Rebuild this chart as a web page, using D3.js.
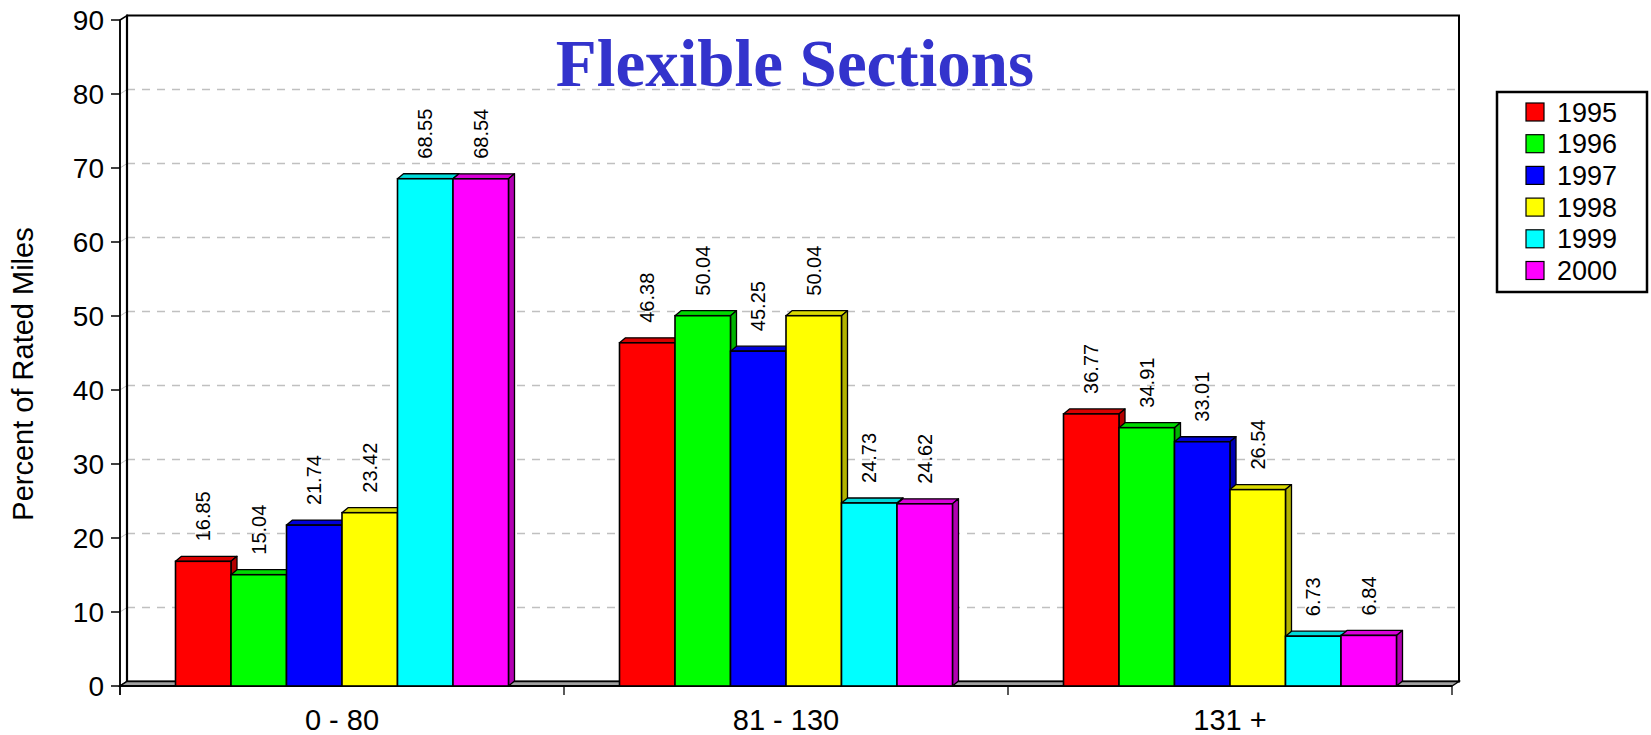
<!DOCTYPE html>
<html>
<head>
<meta charset="utf-8">
<script src="https://cdn.jsdelivr.net/npm/d3@7"></script>
<style>
  html, body { margin: 0; padding: 0; background: #fff; }
  svg { display: block; }
</style>
</head>
<body>
<svg id="chart" width="1651" height="735"></svg>
<script>
// Speed-range categories and yearly series
const categories = ["0 - 80", "81 - 130", "131 +"];
const years = ["1995", "1996", "1997", "1998", "1999", "2000"];
const values1995 = [16.85, 46.38, 36.77];
const values1996 = [15.04, 50.04, 34.91];
const values1997 = [21.74, 45.25, 33.01];
const values1998 = [23.42, 50.04, 26.54];
const values1999 = [68.55, 24.73, 6.73];
const values2000 = [68.54, 24.62, 6.84];
const yTicks = [0, 10, 20, 30, 40, 50, 60, 70, 80, 90];
const colors = ["#FF0000", "#00FF00", "#0000FF", "#FFFF00", "#00FFFF", "#FF00FF"];

const seriesValues = [values1995, values1996, values1997, values1998, values1999, values2000];

(function () {
const svg = d3.select("#chart");

// Layout of the pseudo-3D plot box
const plotLeft = 120, plotRight = 1452, plotBottom = 686, plotTop = 20;
const wallDx = 7, wallDy = -4.5;   // depth of walls
const barDx = 6, barDy = -5;       // depth of bars

const y = d3.scaleLinear().domain([0, 90]).range([plotBottom, plotTop]);
const x = d3.scaleBand().domain(categories).range([plotLeft, plotRight]).padding(0);
const xInner = d3.scaleBand().domain(years)
  .range([x.bandwidth() * 0.125, x.bandwidth() * 0.875]).padding(0);

const poly = pts => "M" + pts.map(p => p.join(",")).join("L") + "Z";

// Back wall
svg.append("rect")
  .attr("x", plotLeft + wallDx).attr("y", plotTop + wallDy)
  .attr("width", plotRight - plotLeft).attr("height", plotBottom - plotTop)
  .attr("fill", "#fff").attr("stroke", "#000").attr("stroke-width", 2);

// Dashed gridlines on back wall and left wall
const grid = svg.append("g");
yTicks.filter(t => t > 0 && t < 90).forEach(t => {
  grid.append("line")
    .attr("x1", plotLeft + wallDx).attr("x2", plotRight + wallDx)
    .attr("y1", y(t) + wallDy).attr("y2", y(t) + wallDy)
    .attr("stroke", "#c0c0c0").attr("stroke-width", 1.3)
    .attr("stroke-dasharray", "8,7");
  grid.append("line")
    .attr("x1", plotLeft).attr("x2", plotLeft + wallDx)
    .attr("y1", y(t)).attr("y2", y(t) + wallDy)
    .attr("stroke", "#c0c0c0").attr("stroke-width", 1);
});

// Left wall (thin slab)
svg.append("path")
  .attr("d", poly([[plotLeft, plotBottom], [plotLeft, plotTop], [plotLeft + wallDx, plotTop + wallDy], [plotLeft + wallDx, plotBottom + wallDy]]))
  .attr("fill", "none").attr("stroke", "#000").attr("stroke-width", 1.5);
svg.append("line")
  .attr("x1", plotLeft + wallDx).attr("x2", plotLeft + wallDx)
  .attr("y1", plotTop + wallDy).attr("y2", plotBottom + wallDy)
  .attr("stroke", "#000").attr("stroke-width", 2.2);

// Floor
svg.append("path")
  .attr("d", poly([[plotLeft, plotBottom], [plotRight, plotBottom], [plotRight + wallDx, plotBottom + wallDy], [plotLeft + wallDx, plotBottom + wallDy]]))
  .attr("fill", "#a0a0a0").attr("stroke", "#000").attr("stroke-width", 1.3);
svg.append("line")
  .attr("x1", plotLeft).attr("x2", plotRight)
  .attr("y1", plotBottom).attr("y2", plotBottom)
  .attr("stroke", "#000").attr("stroke-width", 2.2);

// Bars, drawn left to right so each front face covers the previous side
const barsG = svg.append("g");
const labelsG = svg.append("g");
categories.forEach((cat, ci) => {
  years.forEach((yr, si) => {
    const v = seriesValues[si][ci];
    const x0 = x(cat) + xInner(yr);
    const x1 = x0 + xInner.bandwidth();
    const yt = y(v);
    const base = d3.color(colors[si]);
    const g = barsG.append("g");
    // top face
    g.append("path")
      .attr("d", poly([[x0, yt], [x1, yt], [x1 + barDx, yt + barDy], [x0 + barDx, yt + barDy]]))
      .attr("fill", base.darker(0.45)).attr("stroke", "#000").attr("stroke-width", 1.3)
      .attr("stroke-linejoin", "round");
    // side face
    g.append("path")
      .attr("d", poly([[x1, yt], [x1 + barDx, yt + barDy], [x1 + barDx, plotBottom + barDy], [x1, plotBottom]]))
      .attr("fill", base.darker(1)).attr("stroke", "#000").attr("stroke-width", 1.3)
      .attr("stroke-linejoin", "round");
    // front face
    g.append("rect")
      .attr("x", x0).attr("y", yt)
      .attr("width", x1 - x0).attr("height", plotBottom - yt)
      .attr("fill", colors[si]).attr("stroke", "#000").attr("stroke-width", 1.6);
    // value label
    const cx = (x0 + x1) / 2;
    const ly = yt - 20;
    labelsG.append("text")
      .attr("transform", `translate(${cx},${ly}) rotate(-90)`)
      .attr("dy", "0.36em")
      .attr("text-anchor", "start")
      .attr("font-family", "'Liberation Sans', Arial, sans-serif")
      .attr("font-size", 20)
      .attr("fill", "#000")
      .text(v.toFixed(2));
  });
});

// Y axis ticks and labels
const yAxisG = svg.append("g");
yTicks.forEach(t => {
  yAxisG.append("line")
    .attr("x1", plotLeft - 9).attr("x2", plotLeft)
    .attr("y1", y(t)).attr("y2", y(t))
    .attr("stroke", "#000").attr("stroke-width", 1.5);
  yAxisG.append("text")
    .attr("x", plotLeft - 16).attr("y", y(t))
    .attr("dy", "0.36em")
    .attr("text-anchor", "end")
    .attr("font-family", "'Liberation Sans', Arial, sans-serif")
    .attr("font-size", 28)
    .attr("fill", "#000")
    .text(t);
});
// Y axis front line
svg.append("line")
  .attr("x1", plotLeft).attr("x2", plotLeft)
  .attr("y1", plotTop).attr("y2", plotBottom + 9)
  .attr("stroke", "#000").attr("stroke-width", 1.5);

// X axis ticks at category boundaries
const xAxisG = svg.append("g");
const boundaries = categories.map(c => x(c)).concat([x(categories[categories.length - 1]) + x.bandwidth()]);
boundaries.forEach(bx => {
  xAxisG.append("line")
    .attr("x1", bx).attr("x2", bx)
    .attr("y1", plotBottom).attr("y2", plotBottom + 9)
    .attr("stroke", "#000").attr("stroke-width", 1.3);
});
categories.forEach(c => {
  xAxisG.append("text")
    .attr("x", x(c) + x.bandwidth() / 2).attr("y", 730)
    .attr("text-anchor", "middle")
    .attr("font-family", "'Liberation Sans', Arial, sans-serif")
    .attr("font-size", 29)
    .attr("fill", "#000")
    .text(c);
});

// Y axis title
svg.append("text")
  .attr("transform", "translate(33,374) rotate(-90)")
  .attr("text-anchor", "middle")
  .attr("font-family", "'Liberation Sans', Arial, sans-serif")
  .attr("font-size", 29)
  .attr("fill", "#000")
  .text("Percent of Rated Miles");

// Chart title
svg.append("text")
  .attr("x", 795).attr("y", 85.5)
  .attr("text-anchor", "middle")
  .attr("font-family", "'Liberation Serif', 'Times New Roman', serif")
  .attr("font-weight", "bold")
  .attr("font-size", 67)
  .attr("fill", "#3333CC")
  .text("Flexible Sections");

// Legend
const legend = svg.append("g");
legend.append("rect")
  .attr("x", 1497).attr("y", 92).attr("width", 150).attr("height", 200)
  .attr("fill", "#fff").attr("stroke", "#000").attr("stroke-width", 2.5);
years.forEach((yr, i) => {
  const ry = 103 + i * 31.7;
  legend.append("rect")
    .attr("x", 1526).attr("y", ry).attr("width", 18).attr("height", 18)
    .attr("fill", colors[i]).attr("stroke", "#000").attr("stroke-width", 1.2);
  legend.append("text")
    .attr("x", 1557).attr("y", ry + 18.5)
    .attr("font-family", "'Liberation Sans', Arial, sans-serif")
    .attr("font-size", 27)
    .attr("fill", "#000")
    .text(yr);
});
})();
</script>
</body>
</html>
